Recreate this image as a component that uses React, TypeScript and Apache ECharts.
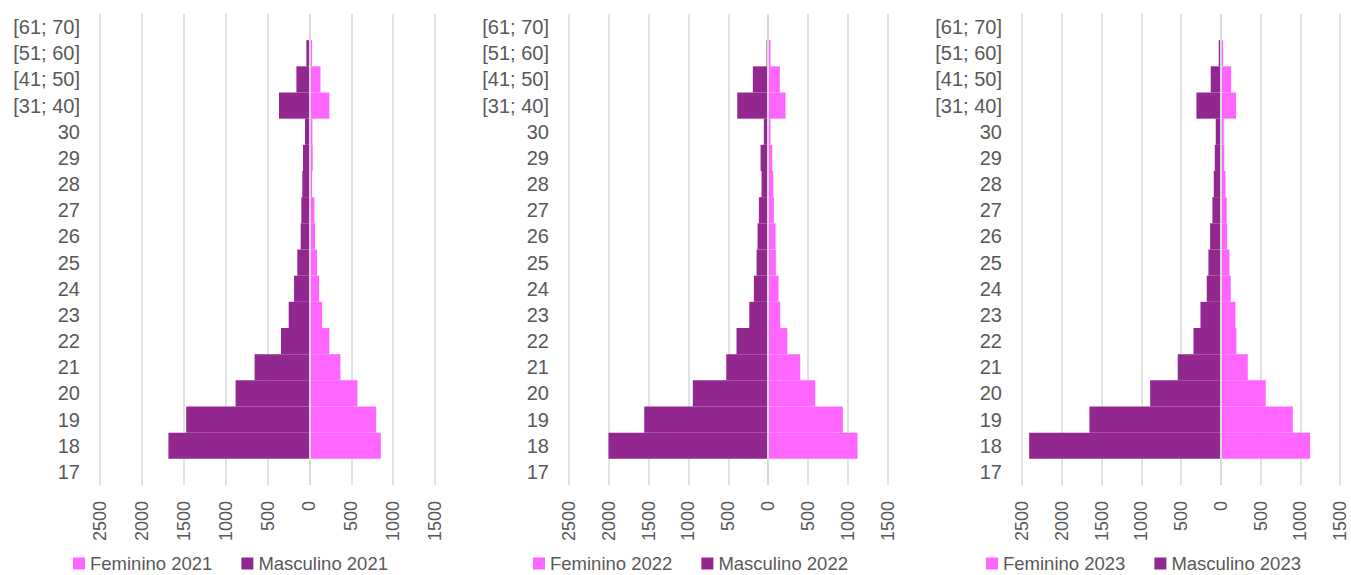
import React, { useEffect, useRef } from "react";
import * as echarts from "echarts";

const categories = [
  "17", "18", "19", "20", "21", "22", "23", "24", "25", "26", "27", "28", "29", "30",
  "[31; 40]", "[41; 50]", "[51; 60]", "[61; 70]",
];

const xTicks = { min: -2500, max: 1500, interval: 500 };

const feminino2021 = [8, 853, 798, 574, 371, 239, 152, 116, 92, 68, 60, 32, 40, 36, 239, 132, 32, 0];
const masculino2021 = [3, 1683, 1471, 881, 654, 339, 247, 183, 144, 104, 96, 84, 76, 52, 363, 155, 36, 0];

const feminino2022 = [8, 1124, 940, 593, 404, 241, 153, 132, 98, 95, 73, 65, 53, 31, 220, 148, 31, 0];
const masculino2022 = [3, 2004, 1555, 945, 525, 396, 236, 178, 144, 132, 115, 82, 94, 53, 387, 191, 19, 0];

const feminino2023 = [8, 1124, 906, 566, 340, 197, 185, 126, 109, 80, 75, 59, 43, 38, 193, 131, 30, 0];
const masculino2023 = [3, 2410, 1652, 888, 541, 343, 255, 176, 155, 134, 105, 88, 75, 63, 306, 126, 25, 0];

const years = ["2021", "2022", "2023"];
const femData = [feminino2021, feminino2022, feminino2023];
const mascData = [masculino2021, masculino2022, masculino2023];

const FEM = "#FF66FF";
const MASC = "#92278F";
const TEXT = "#595959";
const GRID = "#D9D9D9";
const FONT = "'Liberation Sans', Arial, sans-serif";

const panels = [
  { left: 100, width: 335, legendLeft: 68, legendGap: 29 },
  { left: 569, width: 318.5, legendLeft: 528, legendGap: 29 },
  { left: 1022, width: 318, legendLeft: 981, legendGap: 29 },
];

export default function App() {
  const ref = useRef<HTMLDivElement>(null);

  useEffect(() => {
    if (!ref.current) return;
    const chart = echarts.init(ref.current, undefined, { renderer: "svg" });

    const grid = panels.map((p) => ({ left: p.left, width: p.width, top: 14, height: 471 }));
    const xAxis = panels.map((_, i) => ({
      type: "value",
      gridIndex: i,
      min: xTicks.min,
      max: xTicks.max,
      interval: xTicks.interval,
      axisLine: { show: false },
      axisTick: { show: false },
      splitLine: { show: true, lineStyle: { color: GRID, width: 1.5 } },
      axisLabel: {
        rotate: 90,
        margin: 16,
        color: TEXT,
        fontSize: 18,
        fontFamily: FONT,
        formatter: (v: number) => String(Math.abs(v)),
      },
    }));
    const yAxis = panels.map((_, i) => ({
      type: "category",
      gridIndex: i,
      data: categories,
      axisLine: { show: false },
      axisTick: { show: false },
      splitLine: { show: false },
      axisLabel: { color: TEXT, fontSize: 20, fontFamily: FONT, margin: 20 },
    }));
    const series: any[] = [];
    years.forEach((y, i) => {
      series.push({
        name: "Feminino " + y,
        type: "bar",
        xAxisIndex: i,
        yAxisIndex: i,
        stack: "s" + i,
        barCategoryGap: "0%",
        itemStyle: { color: FEM },
        emphasis: { disabled: true },
        data: femData[i],
      });
      series.push({
        name: "Masculino " + y,
        type: "bar",
        xAxisIndex: i,
        yAxisIndex: i,
        stack: "s" + i,
        barCategoryGap: "0%",
        itemStyle: { color: MASC },
        emphasis: { disabled: true },
        data: mascData[i].map((v) => -v),
        markLine: {
          silent: true,
          symbol: "none",
          label: { show: false },
          lineStyle: { color: GRID, width: 2, type: "solid" },
          data: [{ xAxis: 0 }],
        },
      });
    });
    const legend = panels.map((p, i) => ({
      data: ["Feminino " + years[i], "Masculino " + years[i]],
      left: p.legendLeft,
      top: 549,
      icon: "rect",
      itemWidth: 12,
      itemHeight: 12,
      itemGap: p.legendGap,
      selectedMode: false,
      textStyle: { color: TEXT, fontSize: 18.5, fontFamily: FONT },
    }));

    chart.setOption({
      animation: false,
      backgroundColor: "#ffffff",
      textStyle: { fontFamily: FONT },
      grid,
      xAxis,
      yAxis,
      series,
      legend,
    });
    return () => chart.dispose();
  }, []);

  return (
    <div
      ref={ref}
      style={{ position: "fixed", left: 0, top: 0, width: 1351, height: 575 }}
    />
  );
}
